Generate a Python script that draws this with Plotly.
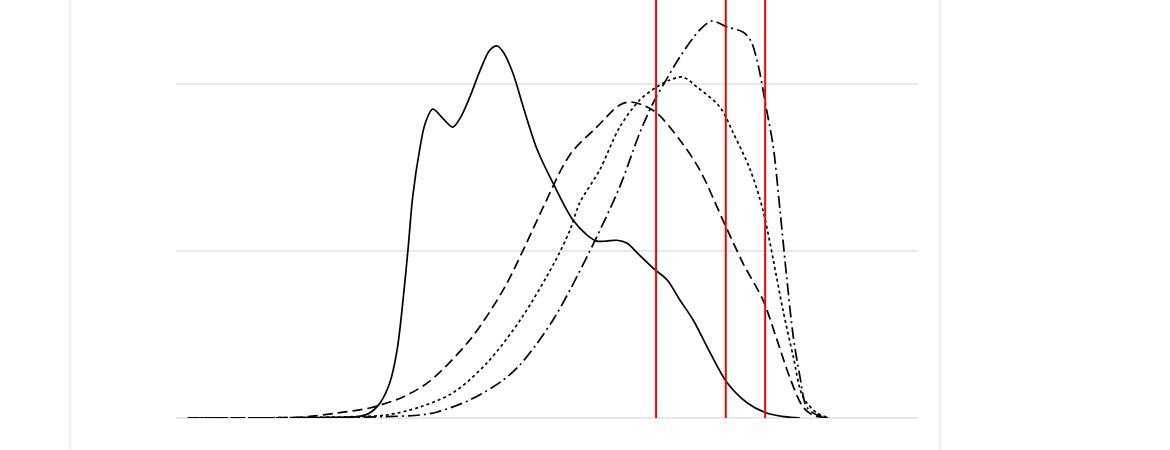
import plotly.graph_objects as go

# ---- data ----
solid_x = [15.4, 17.1, 21.7, 24.5, 26.1, 27.5, 28.8, 29.8, 30.6, 31.3, 31.9, 32.9, 33.6,
           34.6, 35.8, 37.3, 38.3, 39.6, 41.0, 42.3, 43.3, 44.1, 45.4, 46.8, 48.7, 50.8,
           53.5, 55.4, 56.7, 58.0, 59.4, 60.8, 62.1, 64.3, 66.2, 67.9, 69.7, 72.0, 74.3,
           77.0, 79.6, 82.0, 84.1]
solid_y = [0.0, 0.002, 0.004, 0.008, 0.03, 0.09, 0.209, 0.407, 0.706, 1.023, 1.322, 1.621, 1.764,
           1.848, 1.80, 1.74, 1.794, 1.92, 2.081, 2.201, 2.225, 2.189, 2.063, 1.86, 1.603, 1.406,
           1.184, 1.094, 1.058, 1.058, 1.063, 1.045, 0.99, 0.897, 0.825, 0.706, 0.586, 0.389, 0.209,
           0.09, 0.03, 0.008, 0.0]

dashed_x = [1.6, 10.0, 17.1, 21.7, 26.1, 30.6, 34.2, 39.6, 44.1, 46.8, 49.5, 53.1, 56.7,
            59.8, 61.2, 62.9, 64.8, 67.9, 70.6, 73.7, 76.4, 79.1, 81.0, 82.7, 84.5, 85.8, 87.7]
dashed_y = [0.0, 0.001, 0.006, 0.03, 0.06, 0.126, 0.221, 0.467, 0.766, 1.005, 1.262, 1.575, 1.74,
            1.872, 1.89, 1.872, 1.824, 1.663, 1.483, 1.184, 0.927, 0.706, 0.467, 0.245, 0.066, 0.018, 0.0]

dotted_x = [1.6, 10.0, 17.1, 24.0, 28.4, 32.9, 37.3, 41.9, 46.6, 51.0, 53.1, 54.4, 57.1,
            59.8, 62.5, 64.8, 66.5, 68.3, 70.2, 73.3, 75.1, 77.4, 79.1, 80.5, 81.8, 83.2,
            84.5, 86.4, 88.1]
dotted_y = [0.0, 0.001, 0.003, 0.008, 0.018, 0.066, 0.15, 0.329, 0.6, 0.93, 1.124, 1.286, 1.483,
            1.74, 1.902, 1.98, 2.02, 2.039, 1.98, 1.86, 1.705, 1.483, 1.244, 0.945, 0.646, 0.365,
            0.126, 0.03, 0.0]

dashdot_x = [1.6, 12.0, 21.7, 28.0, 32.9, 35.2, 39.6, 44.1, 46.4, 48.7, 51.0, 53.1, 56.7, 59.8,
             62.5, 64.3, 66.2, 67.9, 70.6, 72.2, 74.3, 76.4, 77.4, 78.3, 79.6, 80.5, 81.4,
             82.3, 83.2, 84.1, 85.0, 86.4, 88.1]
dashdot_y = [0.0, 0.001, 0.003, 0.008, 0.018, 0.036, 0.108, 0.227, 0.32, 0.449, 0.6, 0.766, 1.083,
             1.382, 1.705, 1.884, 2.033, 2.159, 2.321, 2.374, 2.338, 2.309, 2.261, 2.141, 1.842, 1.62,
             1.244, 0.843, 0.484, 0.245, 0.066, 0.018, 0.0]

cutoffs = [64.7, 74.1, 79.4]

series = [
    ("solid", solid_x, solid_y, "solid"),
    ("dashed", dashed_x, dashed_y, "10px,5px"),
    ("dotted", dotted_x, dotted_y, "3px,3px"),
    ("dotdash", dashdot_x, dashdot_y, "12px,4px,2px,4px"),
]

fig = go.Figure()
for name, xs, ys, dash in series:
    fig.add_trace(go.Scatter(x=xs, y=ys, mode="lines", name=name, hoverinfo="skip",
                             line=dict(color="black", width=1.7, dash=dash, shape="spline",
                                       smoothing=0.9)))

for c in cutoffs:
    fig.add_shape(type="line", xref="x", yref="paper", x0=c, x1=c, y0=0, y1=1,
                  line=dict(color="red", width=2))

# faint outer frame lines
for px in [-0.1429, 1.0296]:
    fig.add_shape(type="line", xref="paper", yref="paper", x0=px, x1=px, y0=-0.2, y1=1.2,
                  line=dict(color="#ebebeb", width=1.5), layer="below")

fig.update_layout(
    width=1170, height=450,
    margin=dict(l=176, r=252, t=0, b=32),
    paper_bgcolor="white", plot_bgcolor="white",
    showlegend=False,
    xaxis=dict(range=[0, 100], showgrid=False, zeroline=False, showticklabels=False,
               ticks="", showline=False),
    yaxis=dict(range=[0, 2.5], tick0=0, dtick=1, showgrid=True, gridcolor="#e8e8e8",
               gridwidth=1.5, zeroline=True, zerolinecolor="#e8e8e8", zerolinewidth=1.5,
               showticklabels=False, ticks="", showline=False),
)

fig.write_html("out.html", config={"displayModeBar": False},
               post_script="document.body.style.margin='0';")
